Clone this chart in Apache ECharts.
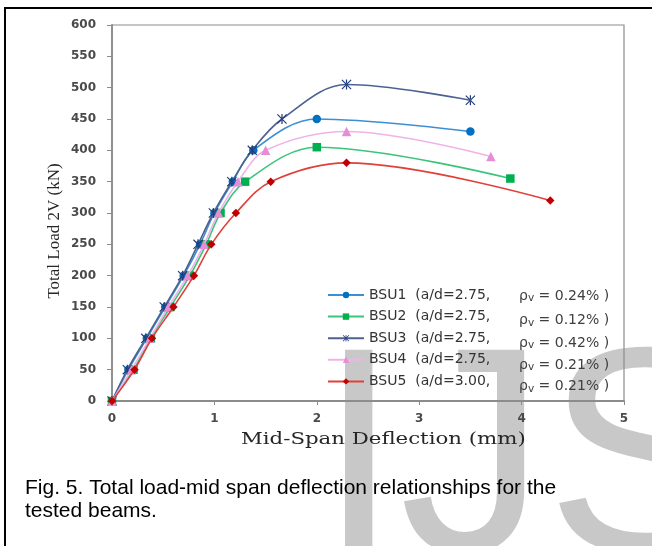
<!DOCTYPE html>
<html>
<head>
<meta charset="utf-8">
<script src="https://cdn.jsdelivr.net/npm/echarts@6/dist/echarts.min.js"></script>
<style>
html,body{margin:0;padding:0;background:#fff;}
#chart{width:652px;height:546px;}
</style>
</head>
<body>
<div id="chart"></div>
<script>
// ---- data ----
var seriesNames = ['BSU1  (a/d=2.75,', 'BSU2  (a/d=2.75,', 'BSU3  (a/d=2.75,', 'BSU4  (a/d=2.75,', 'BSU5  (a/d=3.00,'];
var rhoLabels = ['0.24%', '0.12%', '0.42%', '0.21%', '0.21%'];

var bsu1Defl = [0, 0.16, 0.34, 0.52, 0.70, 0.86, 1.00, 1.18, 1.38, 2.00, 3.50];
var bsu1Load = [0, 50, 100, 150, 200, 250, 300, 350, 400, 450, 430];

var bsu2Defl = [0, 0.21, 0.38, 0.57, 0.76, 0.92, 1.06, 1.30, 2.00, 3.89];
var bsu2Load = [0, 50, 100, 150, 200, 250, 300, 350, 405, 355];

var bsu3Defl = [0, 0.15, 0.33, 0.51, 0.69, 0.84, 0.99, 1.17, 1.37, 1.66, 2.29, 3.50];
var bsu3Load = [0, 50, 100, 150, 200, 250, 300, 350, 400, 450, 505, 480];

var bsu4Defl = [0, 0.19, 0.37, 0.55, 0.74, 0.90, 1.04, 1.23, 1.50, 2.29, 3.70];
var bsu4Load = [0, 50, 100, 150, 200, 250, 300, 350, 400, 430, 390];

var bsu5Defl = [0, 0.22, 0.39, 0.60, 0.80, 0.97, 1.21, 1.55, 2.29, 4.28];
var bsu5Load = [0, 50, 100, 150, 200, 250, 300, 350, 380, 320];

var xTitle = 'Mid-Span Deflection (mm)';
var yTitle = 'Total Load 2V (kN)';
var captionLines = ['Fig. 5. Total load-mid span deflection relationships for the', 'tested beams.'];
var watermark = 'IJS';

function pairs(xs, ys) { return xs.map(function (x, i) { return [x, ys[i]]; }); }

var starPath = 'path://M4.4,0 L5.6,0 L5.6,10 L4.4,10 Z M0,0.8 L0.8,0 L10,9.2 L9.2,10 Z M10,0.8 L9.2,0 L0,9.2 L0.8,10 Z';

var styles = [
  {symbol: 'circle', size: 8.5, marker: '#0070C0', line: '#3d8fd4'},
  {symbol: 'rect', size: 8.5, marker: '#00B050', line: '#3cc47c'},
  {symbol: starPath, size: 10, marker: '#1F3A78', line: '#4d6291'},
  {symbol: 'triangle', size: 9.5, marker: '#E58ED6', line: '#f0b3e8'},
  {symbol: 'diamond', size: 8.5, marker: '#C00000', line: '#e0403a'}
];
var dataSets = [pairs(bsu1Defl, bsu1Load), pairs(bsu2Defl, bsu2Load), pairs(bsu3Defl, bsu3Load), pairs(bsu4Defl, bsu4Load), pairs(bsu5Defl, bsu5Load)];

var series = dataSets.map(function (d, i) {
  var s = styles[i];
  return {
    name: seriesNames[i],
    type: 'line',
    data: d,
    smooth: 0.35,
    symbol: s.symbol,
    symbolSize: s.size,
    showAllSymbol: true,
    itemStyle: {color: s.marker},
    lineStyle: {color: s.line, width: 1.6},
    z: 3 + i
  };
});

var chart = echarts.init(document.getElementById('chart'), null, {renderer: 'canvas'});

var graphics = [
  {type: 'rect', z: -20, silent: true, shape: {x: 5, y: 8, width: 700, height: 600},
   style: {fill: 'none', stroke: '#000', lineWidth: 2}},
  {type: 'text', z: -10, silent: true, x: 318, y: 324,
   style: {text: watermark, font: '293px "Liberation Sans", Arial, sans-serif', fill: '#c8c8c8'}},
  {type: 'text', x: 241, y: 432, z: 10, scaleX: 1.33,
   style: {text: xTitle, font: '16px "DejaVu Serif", serif', fill: '#262626'}},
  {type: 'text', x: 55, y: 231, rotation: Math.PI / 2, z: 10,
   style: {text: yTitle, font: '17px "Liberation Serif", "Times New Roman", serif', fill: '#262626', align: 'center', verticalAlign: 'middle'}},
  {type: 'text', x: 25, y: 478, z: 10,
   style: {text: captionLines[0], font: '21px "Liberation Sans", Arial, sans-serif', fill: '#000'}},
  {type: 'text', x: 25, y: 501, z: 10,
   style: {text: captionLines[1], font: '21px "Liberation Sans", Arial, sans-serif', fill: '#000'}}
];

var rhoY = [296, 320.5, 343, 365, 386.5];
rhoLabels.forEach(function (r, i) {
  graphics.push({
    type: 'text', x: 519, y: rhoY[i], z: 10,
    style: {
      text: '{g|ρ}{s|v}{t| = ' + r + ' )}',
      verticalAlign: 'middle',
      rich: {
        g: {fontFamily: 'DejaVu Sans', fontSize: 14, fill: '#404040', color: '#404040'},
        s: {fontFamily: 'DejaVu Sans', fontSize: 10.5, fill: '#404040', color: '#404040', padding: [5, 0, 0, 0]},
        t: {fontFamily: 'DejaVu Sans', fontSize: 14, fill: '#404040', color: '#404040'}
      }
    }
  });
});

chart.setOption({
  backgroundColor: '#fff',
  animation: false,
  grid: {left: 112, right: 28, top: 25, bottom: 145, show: true, borderColor: '#8c8c8c', borderWidth: 1.2, backgroundColor: 'transparent'},
  xAxis: {
    type: 'value', min: 0, max: 5, interval: 1,
    axisLine: {show: true, onZero: false, lineStyle: {color: '#8c8c8c', width: 1.8}},
    axisTick: {show: true, inside: false, length: 4, lineStyle: {color: '#8c8c8c'}},
    splitLine: {show: false},
    axisLabel: {margin: 12, fontFamily: 'DejaVu Sans', fontSize: 12, fontWeight: 'bold', color: '#4a4a4a'}
  },
  yAxis: {
    type: 'value', min: 0, max: 600, interval: 50,
    axisLine: {show: true, lineStyle: {color: '#8c8c8c', width: 1.8}},
    axisTick: {show: true, inside: false, length: 5, lineStyle: {color: '#8c8c8c'}},
    splitLine: {show: false},
    axisLabel: {margin: 16, fontFamily: 'DejaVu Sans', fontSize: 12, fontWeight: 'bold', color: '#4a4a4a'}
  },
  legend: {
    orient: 'vertical',
    left: 322, top: 283,
    itemWidth: 36, itemHeight: 8, itemGap: 7.6,
    data: seriesNames,
    textStyle: {fontFamily: 'DejaVu Sans', fontSize: 14, color: '#333', lineHeight: 14},
    backgroundColor: 'transparent'
  },
  graphic: graphics,
  series: series
});
</script>
</body>
</html>
